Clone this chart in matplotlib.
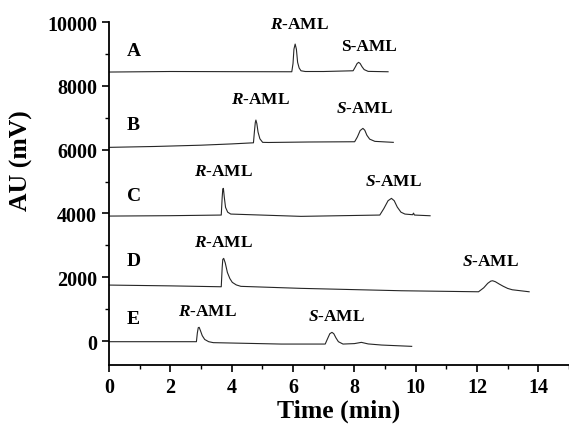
import matplotlib.pyplot as plt
from matplotlib.ticker import MultipleLocator

plt.rcParams['font.family'] = ['Liberation Serif', 'DejaVu Serif']
plt.rcParams['font.weight'] = 'bold'
plt.rcParams['mathtext.fontset'] = 'custom'
plt.rcParams['mathtext.it'] = 'Liberation Serif:italic:bold'
plt.rcParams['mathtext.rm'] = 'Liberation Serif:bold'

# chromatogram traces (time in min, signal in mV)
t_a = [0.0, 2.0, 4.0, 5.96, 6.00, 6.03, 6.07, 6.11, 6.15, 6.20, 6.26, 6.40, 7.0,
       7.96, 8.03, 8.09, 8.14, 8.19, 8.25, 8.32, 8.45, 9.10]
v_a = [8433, 8450, 8445, 8442, 8700, 9150, 9310, 9150, 8737, 8560, 8473, 8450, 8450,
       8473, 8590, 8700, 8737, 8700, 8600, 8510, 8454, 8442]

t_b = [0.0, 1.5, 3.0, 4.0, 4.71, 4.74, 4.77, 4.79, 4.82, 4.86, 4.92, 5.01, 5.2, 6.5,
       8.01, 8.10, 8.19, 8.28, 8.34, 8.41, 8.50, 8.67, 9.27]
v_b = [6072, 6100, 6140, 6180, 6215, 6550, 6850, 6928, 6820, 6550, 6340, 6229, 6225, 6240,
       6248, 6400, 6600, 6667, 6610, 6450, 6330, 6260, 6229]

t_c = [0.0, 2.0, 3.66, 3.69, 3.71, 3.73, 3.76, 3.80, 3.87, 3.97, 6.26,
       8.83, 8.96, 9.10, 9.21, 9.30, 9.40, 9.52, 9.65, 9.90, 9.93, 9.96, 10.47]
v_c = [3918, 3930, 3950, 4500, 4770, 4787, 4500, 4191, 4040, 3981, 3909,
       3950, 4150, 4400, 4473, 4400, 4200, 4040, 3981, 3960, 4010, 3950, 3928]

t_d = [0.0, 2.0, 3.66, 3.69, 3.71, 3.74, 3.79, 3.86, 3.94, 4.02, 4.15, 4.30, 6.26, 9.54,
       12.05, 12.22, 12.35, 12.45, 12.51, 12.60, 12.72, 12.85, 13.00, 13.15, 13.70]
v_d = [1755, 1730, 1702, 2300, 2560, 2592, 2450, 2150, 1960, 1840, 1760, 1715, 1652, 1577,
       1545, 1670, 1810, 1880, 1890, 1860, 1790, 1720, 1650, 1608, 1545]

t_e = [0.0, 2.85, 2.88, 2.91, 2.94, 2.98, 3.04, 3.12, 3.25, 3.40, 5.61,
       7.05, 7.12, 7.20, 7.27, 7.33, 7.40, 7.48, 7.63, 8.0, 8.23, 8.45, 8.89, 9.87]
v_e = [-20, -20, 250, 420, 430, 330, 170, 50, -20, -50, -94,
       -94, 60, 230, 273, 230, 100, -20, -94, -80, -41, -90, -125, -166]

traces = [(t_a, v_a), (t_b, v_b), (t_c, v_c), (t_d, v_d), (t_e, v_e)]

# trace letters and their vertical positions
letters = ['A', 'B', 'C', 'D', 'E']
letter_y = [9100, 6802, 4577, 2517, 712]

# peak labels: (text, time, signal)
peak_labels = [
    (r'$\mathit{R}$-AML', 6.2, 9937),
    ('S-AML', 8.48, 9257),
    (r'$\mathit{R}$-AML', 4.93, 7586),
    (r'$\mathit{S}$-AML', 8.35, 7294),
    (r'$\mathit{R}$-AML', 3.75, 5339),
    (r'$\mathit{S}$-AML', 9.27, 5025),
    (r'$\mathit{R}$-AML', 3.75, 3094),
    (r'$\mathit{S}$-AML', 12.43, 2517),
    (r'$\mathit{R}$-AML', 3.21, 950),
    (r'$\mathit{S}$-AML', 7.43, 793),
]

fig = plt.figure(figsize=(5.69, 4.27), dpi=100)
ax = fig.add_axes([0.1916, 0.1429, 0.8084, 0.8031])

for t, v in traces:
    ax.plot(t, v, color='#262626', linewidth=0.8)

for name, y in zip(letters, letter_y):
    ax.text(0.58, y, name, fontsize=14, fontweight='bold', ha='left', va='center')

for txt, x, y in peak_labels:
    ax.text(x, y, txt, fontsize=12.5, fontweight='bold', ha='center', va='center')

ax.set_xlim(0, 15)
ax.set_ylim(-750, 10000)
ax.xaxis.set_major_locator(MultipleLocator(2))
ax.xaxis.set_minor_locator(MultipleLocator(1))
ax.yaxis.set_major_locator(MultipleLocator(2000))
ax.yaxis.set_minor_locator(MultipleLocator(1000))

ax.spines['top'].set_visible(False)
ax.spines['right'].set_visible(False)
ax.spines['left'].set_linewidth(1.3)
ax.spines['bottom'].set_linewidth(1.3)
ax.tick_params(which='major', direction='out', length=5, width=1.2, labelsize=14.5)
ax.tick_params(which='minor', direction='out', length=3, width=1.0)
for lab in ax.get_xticklabels() + ax.get_yticklabels():
    lab.set_fontweight('bold')

ax.set_xlabel('Time (min)', fontsize=18.5, fontweight='bold', labelpad=1)
ax.set_ylabel('AU (mV)', fontsize=18.5, fontweight='bold')
ax.yaxis.set_label_coords(-0.165, 0.60)

fig.savefig('out.png', dpi=100)
